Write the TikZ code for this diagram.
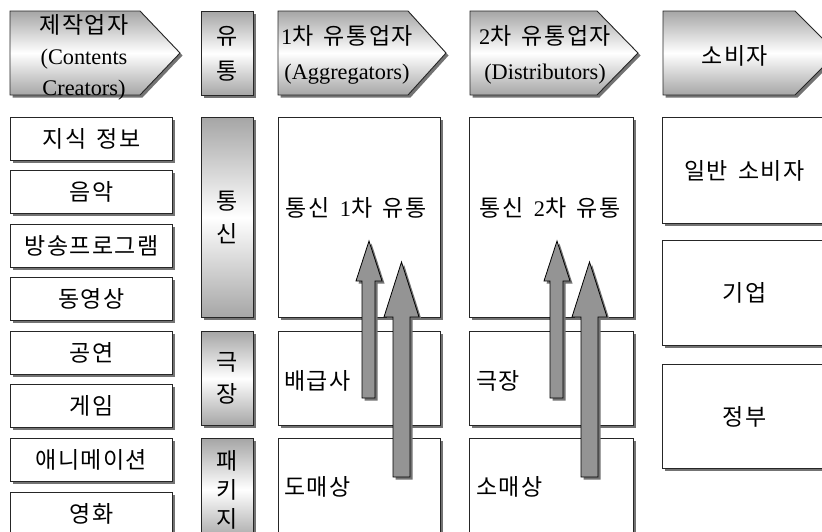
\documentclass[tikz,border=0pt]{standalone}
\usepackage{fontspec}
\setmainfont{Noto Sans CJK KR}[LetterSpace=6, WordSpace=1.6]
\newfontfamily\lat{Liberation Serif}[Scale=0.97]
\usetikzlibrary{shadows}
\tikzset{
  shadowed/.style={drop shadow={shadow xshift=2.5pt, shadow yshift=-2.5pt, fill=black!55, opacity=1}},
  plainbox/.style={draw=black!85, line width=0.9pt, fill=white, shadowed, inner sep=0pt,
    anchor=north west, font=\fontsize{23}{27}\selectfont},
  gradbox/.style={draw=black!85, line width=0.9pt, top color=black!35, bottom color=black!35,
    middle color=white, shadowed},
  blockarrow/.style={draw=black, line width=0.8pt, fill=black!42, shadowed, line join=miter},
  lbl/.style={inner sep=0pt, font=\fontsize{23}{27}\selectfont},
}
\begin{document}
\begin{tikzpicture}[x=1pt, y=-1pt]
\useasboundingbox (0,0) rectangle (822,531);
\clip (0,0) rectangle (822,531);

% ---------- header chevrons ----------
\path[gradbox] (10,11) -- (140,11) -- (180,53) -- (140,95) -- (10,95) -- cycle;
\node[lbl, align=center, font=\fontsize{23}{31}\selectfont] (c1t) at (84,57)
  {제작업자\\{\lat (Contents}\\{\lat Creators)}};

\node[gradbox, anchor=north west, minimum width=52pt, minimum height=84pt, inner sep=0pt,
  align=center, font=\fontsize{23}{35}\selectfont] (h2) at (201,11) {유\\통};

\path[gradbox] (278,11) -- (408,11) -- (446,53) -- (408,95) -- (278,95) -- cycle;
\node[lbl, align=center, font=\fontsize{23}{35}\selectfont] (c2t) at (347,55)
  {{\lat 1}차 유통업자\\{\lat (Aggregators)}};

\path[gradbox] (470,11) -- (597,11) -- (638,53) -- (597,95) -- (470,95) -- cycle;
\node[lbl, align=center, font=\fontsize{23}{35}\selectfont] (c3t) at (545,55)
  {{\lat 2}차 유통업자\\{\lat (Distributors)}};

\path[gradbox] (663,11) -- (795,11) -- (837,53) -- (795,95) -- (663,95) -- cycle;
\node[lbl] (c4t) at (735,56) {소비자};

% ---------- content creators column ----------
\node[plainbox, minimum width=162pt, minimum height=43pt] (k1) at (10,117) {지식 정보};
\node[plainbox, minimum width=162pt, minimum height=43pt] (k2) at (10,170) {음악};
\node[plainbox, minimum width=162pt, minimum height=43pt] (k3) at (10,224) {방송프로그램};
\node[plainbox, minimum width=162pt, minimum height=43pt] (k4) at (10,277) {동영상};
\node[plainbox, minimum width=162pt, minimum height=43pt] (k5) at (10,331) {공연};
\node[plainbox, minimum width=162pt, minimum height=43pt] (k6) at (10,384) {게임};
\node[plainbox, minimum width=162pt, minimum height=43pt] (k7) at (10,438) {애니메이션};
\node[plainbox, minimum width=162pt, minimum height=43pt] (k8) at (10,492) {영화};

% ---------- channel column ----------
\node[gradbox, anchor=north west, minimum width=52pt, minimum height=200pt, inner sep=0pt,
  align=center, font=\fontsize{23}{33}\selectfont] (m1) at (201,117) {통\\신};
\node[gradbox, anchor=north west, minimum width=52pt, minimum height=94pt, inner sep=0pt,
  align=center, font=\fontsize{23}{32}\selectfont] (m2) at (201,331) {극\\장};
\node[gradbox, anchor=north west, minimum width=52pt, minimum height=102pt, inner sep=0pt,
  align=center, font=\fontsize{23}{29}\selectfont] (m3) at (201,438) {패\\키\\지};

% ---------- aggregators column ----------
\node[plainbox, minimum width=162pt, minimum height=200pt] (a1) at (278,117) {};
\node[plainbox, minimum width=162pt, minimum height=94pt] (a2) at (278,331) {};
\node[plainbox, minimum width=162pt, minimum height=102pt] (a3) at (278,438) {};
\node[lbl] (a1t) at (356,208) {통신 {\lat 1}차 유통};
\node[lbl, anchor=west] (a2t) at (284,381) {배급사};
\node[lbl, anchor=west] (a3t) at (284,487) {도매상};

% ---------- distributors column ----------
\node[plainbox, minimum width=164pt, minimum height=200pt] (d1) at (469,117) {};
\node[plainbox, minimum width=164pt, minimum height=94pt] (d2) at (469,331) {};
\node[plainbox, minimum width=164pt, minimum height=102pt] (d3) at (469,438) {};
\node[lbl] (d1t) at (550,208) {통신 {\lat 2}차 유통};
\node[lbl, anchor=west] (d2t) at (476,381) {극장};
\node[lbl, anchor=west] (d3t) at (476,487) {소매상};

% ---------- consumers column ----------
\node[plainbox, minimum width=164pt, minimum height=106pt] (s1) at (662,117) {일반 소비자};
\node[plainbox, minimum width=164pt, minimum height=105pt] (s2) at (662,240) {기업};
\node[plainbox, minimum width=164pt, minimum height=104pt] (s3) at (662,364) {정부};

% ---------- block arrows ----------
\path[blockarrow] (362,398) -- (362,281) -- (356,281) -- (369,241) -- (382,281) -- (375,281) -- (375,398) -- cycle;
\path[blockarrow] (393,477) -- (393,317) -- (384,317) -- (401.5,262) -- (419,317) -- (410,317) -- (410,477) -- cycle;
\path[blockarrow] (550,398) -- (550,281) -- (544,281) -- (557,241) -- (570,281) -- (563,281) -- (563,398) -- cycle;
\path[blockarrow] (581,477) -- (581,317) -- (572,317) -- (589.5,262) -- (607,317) -- (598,317) -- (598,477) -- cycle;
\end{tikzpicture}
\end{document}
